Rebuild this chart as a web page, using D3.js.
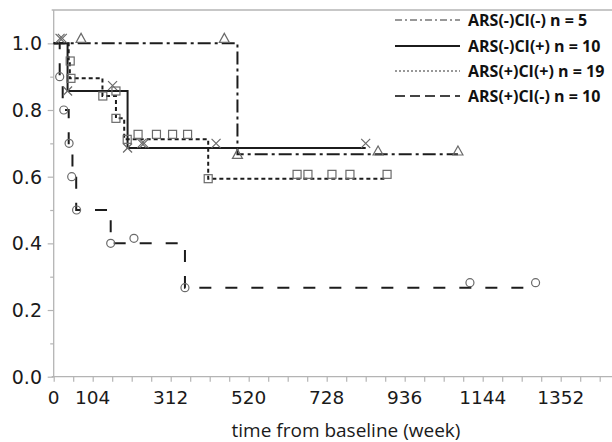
<!DOCTYPE html>
<html>
<head>
<meta charset="utf-8">
<script src="https://cdn.jsdelivr.net/npm/d3@7/dist/d3.min.js"></script>
<style>
  body { margin: 0; background: white; }
  svg { display: block; }
</style>
</head>
<body>
<svg id="graph" width="612" height="442"></svg>
<script>
// series labels (legend order)
const series_names = ["ARS(-)CI(-) n = 5", "ARS(-)CI(+) n = 10", "ARS(+)CI(+) n = 19", "ARS(+)CI(-) n = 10"]

// step curves: time (week) and survival after each step
const s1_times = [0, 490, 1078]
const s1_surv = [1.0, 0.667, 0.667]
const s2_times = [0, 37, 197, 832]
const s2_surv = [1.0, 0.857, 0.686, 0.686]
const s3_times = [0, 40, 43, 130, 166, 188, 412, 889]
const s3_surv = [1.0, 0.947, 0.895, 0.842, 0.775, 0.712, 0.594, 0.594]
const s4_times = [0, 16, 24, 40, 50, 60, 152, 350, 1285]
const s4_surv = [1.0, 0.9, 0.8, 0.7, 0.6, 0.5, 0.4, 0.267, 0.267]

// markers
const m1_times = [73, 455, 490, 865, 1078]
const m1_vals = [1.015, 1.015, 0.667, 0.677, 0.677]
const m2_times = [17, 23, 37, 157, 197, 235, 241, 433, 832]
const m2_vals = [1.015, 1.015, 0.857, 0.873, 0.686, 0.70, 0.70, 0.70, 0.70]
const m3_times = [44, 46, 131, 166, 166, 196, 225, 274, 317, 357, 412, 649, 678, 742, 790, 889]
const m3_vals = [0.947, 0.895, 0.842, 0.857, 0.775, 0.712, 0.727, 0.727, 0.727, 0.727, 0.594, 0.607, 0.607, 0.607, 0.607, 0.607]
const m4_times = [16, 27, 41, 48, 61, 152, 214, 350, 1110, 1285]
const m4_vals = [0.9, 0.8, 0.7, 0.6, 0.5, 0.4, 0.415, 0.267, 0.282, 0.282]

// axis ticks
const x_ticks = d3.range(0, 1457, 52)
const x_tick_labels = [0, 104, 312, 520, 728, 936, 1144, 1352]
const y_ticks = d3.range(0, 11).map(d => d / 10)
const y_tick_labels = [0, 0.2, 0.4, 0.6, 0.8, 1.0]

const marginLeft = 53.7
const marginTop = 10
const plotRight = 612
const plotBottom = 376.7

const svg = d3.select("#graph")

const x = d3.scaleLinear().domain([0, (plotRight - marginLeft) / 0.375]).range([marginLeft, plotRight])
const y = d3.scaleLinear().domain([0, 1.1]).range([plotBottom, marginTop])

const axis_color = "#b4b4b4"
const line_color = "#1c1c1c"
const marker_color = "#6a6a6a"

// top border
svg.append("line")
  .attr("x1", marginLeft - 2).attr("x2", plotRight)
  .attr("y1", y(1.1)).attr("y2", y(1.1))
  .attr("stroke", axis_color).attr("stroke-width", 1.3)

// y axis
const yAxis = svg.append("g")
  .attr("transform", `translate(${marginLeft},0)`)
  .call(d3.axisLeft(y).tickValues(y_ticks).tickSize(0).tickFormat(""))
yAxis.select(".domain").attr("stroke", axis_color).attr("stroke-width", 1.3)
  .attr("d", `M0,${plotBottom}V${marginTop}`)
yAxis.selectAll(".tick line")
  .attr("stroke", axis_color)
  .attr("stroke-width", 1.2)
  .attr("x2", d => (Math.round(d * 10) % 2 == 0) ? -6 : -3.5)

svg.append("g").selectAll("text")
  .data(y_tick_labels)
  .enter()
  .append("text")
  .attr("x", 42)
  .attr("y", d => y(d))
  .attr("dy", "0.36em")
  .attr("text-anchor", "end")
  .attr("font-family", "DejaVu Sans")
  .attr("font-size", 19)
  .attr("fill", "#1a1a1a")
  .text(d => d.toFixed(1))

// x axis
const xAxis = svg.append("g")
  .attr("transform", `translate(0,${plotBottom})`)
  .call(d3.axisBottom(x).tickValues(x_ticks).tickSize(5).tickFormat(""))
xAxis.select(".domain").attr("stroke", axis_color).attr("stroke-width", 1.3)
  .attr("d", `M${marginLeft - 2},0H${plotRight}`)
xAxis.selectAll(".tick line").attr("stroke", axis_color).attr("stroke-width", 1.2)

svg.append("g").selectAll("text")
  .data(x_tick_labels)
  .enter()
  .append("text")
  .attr("x", d => x(d))
  .attr("y", 404)
  .attr("text-anchor", "middle")
  .attr("font-family", "DejaVu Sans")
  .attr("font-size", 18.5)
  .attr("fill", "#1a1a1a")
  .text(d => d)

svg.append("text")
  .attr("x", 346)
  .attr("y", 437)
  .attr("text-anchor", "middle")
  .attr("font-family", "Open Sans")
  .attr("font-size", 19)
  .attr("fill", "#1a1a1a")
  .text("time from baseline (week)")

// curves
const styles = [
  { dash: "13,4,3,4", legend_dash: "7,3,2,3", legend_color: "#777", legend_width: 1.5 },
  { dash: null, legend_dash: null, legend_color: line_color, legend_width: 2 },
  { dash: "4,3", legend_dash: "2,2", legend_color: "#777", legend_width: 1.5 },
  { dash: "12,14", legend_dash: "10,5", legend_color: "#444", legend_width: 2 },
]

const curves = [
  d3.zip(s1_times, s1_surv),
  d3.zip(s2_times, s2_surv),
  d3.zip(s3_times, s3_surv),
  d3.zip(s4_times, s4_surv),
]

const step = d3.line()
  .x(d => x(d[0]))
  .y(d => y(d[1]))
  .curve(d3.curveStepAfter)

curves.forEach((c, i) => {
  svg.append("path")
    .datum(c)
    .attr("d", step)
    .attr("fill", "none")
    .attr("stroke", line_color)
    .attr("stroke-width", 2)
    .attr("stroke-dasharray", styles[i].dash)
})

// markers
const g_markers = svg.append("g")
  .attr("fill", "none")
  .attr("stroke", marker_color)
  .attr("stroke-width", 1.2)

// triangles
g_markers.selectAll(".tri")
  .data(d3.zip(m1_times, m1_vals))
  .enter()
  .append("path")
  .attr("class", "tri")
  .attr("d", d => {
    const cx = x(d[0]), cy = y(d[1])
    return `M${cx},${cy - 5}L${cx + 5},${cy + 4}L${cx - 5},${cy + 4}Z`
  })

// crosses
g_markers.selectAll(".cross")
  .data(d3.zip(m2_times, m2_vals))
  .enter()
  .append("path")
  .attr("class", "cross")
  .attr("d", d => {
    const cx = x(d[0]), cy = y(d[1])
    return `M${cx - 4.5},${cy - 4.5}L${cx + 4.5},${cy + 4.5}M${cx + 4.5},${cy - 4.5}L${cx - 4.5},${cy + 4.5}`
  })

// squares
g_markers.selectAll(".sq")
  .data(d3.zip(m3_times, m3_vals))
  .enter()
  .append("rect")
  .attr("class", "sq")
  .attr("x", d => x(d[0]) - 4)
  .attr("y", d => y(d[1]) - 4)
  .attr("width", 8)
  .attr("height", 8)

// circles
g_markers.selectAll(".circ")
  .data(d3.zip(m4_times, m4_vals))
  .enter()
  .append("circle")
  .attr("class", "circ")
  .attr("cx", d => x(d[0]))
  .attr("cy", d => y(d[1]))
  .attr("r", 4)

// legend
const legend_y = [20, 46, 71, 96]
const legend = svg.append("g")
series_names.forEach((name, i) => {
  legend.append("line")
    .attr("x1", 395).attr("x2", 460)
    .attr("y1", legend_y[i]).attr("y2", legend_y[i])
    .attr("stroke", styles[i].legend_color)
    .attr("stroke-width", styles[i].legend_width)
    .attr("stroke-dasharray", styles[i].legend_dash)
  legend.append("text")
    .attr("x", 468)
    .attr("y", legend_y[i])
    .attr("dy", "0.36em")
    .attr("font-family", "Open Sans")
    .attr("font-weight", "bold")
    .attr("font-size", 16)
    .attr("fill", "#111")
    .text(name)
})
</script>
</body>
</html>
